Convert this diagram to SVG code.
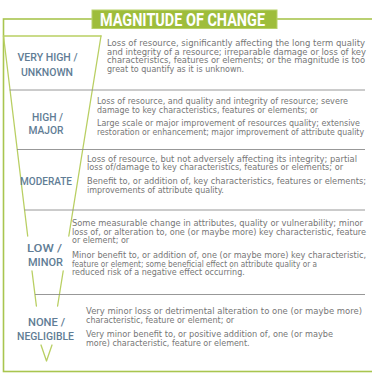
<svg xmlns="http://www.w3.org/2000/svg" width="372" height="382" viewBox="0 0 372 382">
  <defs>
    <style>
      .frame { fill: none; stroke: #a9c54f; stroke-width: 1.6; }
      .funnel { fill: none; stroke: #b9cf63; stroke-width: 1.3; stroke-linecap: round; stroke-linejoin: round; }
      .rule { stroke: #8c8c8c; stroke-width: 0.9; }
      .title-box { fill: #9ebd3b; stroke: #b8d16a; stroke-width: 1; }
      .title { font-family: Roboto, "Liberation Sans", sans-serif; font-weight: 700; font-size: 17.5px; fill: #ffffff; }
      .label { font-family: Roboto, "Liberation Sans", sans-serif; font-weight: 500; font-size: 11.5px; fill: #617d95; text-anchor: middle; }
      .desc { font-family: "DejaVu Sans", "Liberation Sans", sans-serif; font-size: 8px; fill: #767676; }
    </style>
  </defs>

  <rect x="0" y="0" width="372" height="382" fill="#ffffff"/>

  <!-- outer frame (right side runs past the edge) -->
  <rect class="frame" x="3.5" y="19" width="380" height="352.5"/>

  <!-- heading tab -->
  <g id="title">
    <rect class="title-box" x="92" y="10" width="185" height="18.5"/>
    <text class="title" x="100" y="25.5" textLength="165" lengthAdjust="spacingAndGlyphs">MAGNITUDE OF CHANGE</text>
  </g>

  <!-- funnel outline and row rules -->
  <g id="connectors">
    <path class="funnel" d="M3.5,36 H101"/>
    <path class="funnel" d="M3.5,36 L27.7,236 M32,271 L36.4,306"/>
    <path class="funnel" d="M101,36 L68.8,236 M63.2,271 L57.6,306"/>
    <path class="funnel" d="M41,345 L46.5,361 L52,345"/>
    <line class="rule" x1="9.7" y1="90" x2="365" y2="90"/>
    <line class="rule" x1="17" y1="149.5" x2="365" y2="149.5"/>
    <line class="rule" x1="24.5" y1="210" x2="365" y2="210"/>
    <line class="rule" x1="35" y1="294.5" x2="365" y2="294.5"/>
  </g>

  <g id="row-very-high">
    <text class="label" x="47.5" y="61" textLength="60" lengthAdjust="spacingAndGlyphs">VERY HIGH /</text>
    <text class="label" x="47" y="76" textLength="52" lengthAdjust="spacingAndGlyphs">UNKNOWN</text>
    <text class="desc" x="107" y="46" textLength="258" lengthAdjust="spacingAndGlyphs">Loss of resource, significantly affecting the long term quality</text>
    <text class="desc" x="107" y="54.5" textLength="259" lengthAdjust="spacingAndGlyphs">and integrity of a resource; irreparable damage or loss of key</text>
    <text class="desc" x="107" y="63" textLength="258" lengthAdjust="spacingAndGlyphs">characteristics, features or elements; or the magnitude is too</text>
    <text class="desc" x="107" y="71.5">great to quantify as it is unknown.</text>
  </g>

  <g id="row-high">
    <text class="label" x="47.5" y="120.5" textLength="31" lengthAdjust="spacingAndGlyphs">HIGH /</text>
    <text class="label" x="46" y="133.5" textLength="35" lengthAdjust="spacingAndGlyphs">MAJOR</text>
    <text class="desc" x="97" y="104" textLength="251" lengthAdjust="spacingAndGlyphs">Loss of resource, and quality and integrity of resource; severe</text>
    <text class="desc" x="97" y="112.5" textLength="221" lengthAdjust="spacingAndGlyphs">damage to key characteristics, features or elements; or</text>
    <text class="desc" x="97" y="126" textLength="263" lengthAdjust="spacingAndGlyphs">Large scale or major improvement of resources quality; extensive</text>
    <text class="desc" x="97" y="134.5" textLength="267" lengthAdjust="spacingAndGlyphs">restoration or enhancement; major improvement of attribute quality</text>
  </g>

  <g id="row-moderate">
    <text class="label" x="46" y="185" textLength="52" lengthAdjust="spacingAndGlyphs">MODERATE</text>
    <text class="desc" x="87" y="161.5" textLength="270" lengthAdjust="spacingAndGlyphs">Loss of resource, but not adversely affecting its integrity; partial</text>
    <text class="desc" x="87" y="170" textLength="256" lengthAdjust="spacingAndGlyphs">loss of/damage to key characteristics, features or elements; or</text>
    <text class="desc" x="87" y="184" textLength="279" lengthAdjust="spacingAndGlyphs">Benefit to, or addition of, key characteristics, features or elements;</text>
    <text class="desc" x="87" y="192.5">improvements of attribute quality.</text>
  </g>

  <g id="row-low">
    <text class="label" x="44.5" y="252" textLength="35" lengthAdjust="spacingAndGlyphs">LOW /</text>
    <text class="label" x="45.5" y="265.5" textLength="35" lengthAdjust="spacingAndGlyphs">MINOR</text>
    <text class="desc" x="72" y="226" textLength="291" lengthAdjust="spacingAndGlyphs">Some measurable change in attributes, quality or vulnerability; minor</text>
    <text class="desc" x="72" y="234.5" textLength="294" lengthAdjust="spacingAndGlyphs">loss of, or alteration to, one (or maybe more) key characteristic, feature</text>
    <text class="desc" x="72" y="243">or element; or</text>
    <text class="desc" x="72" y="258" textLength="294" lengthAdjust="spacingAndGlyphs">Minor benefit to, or addition of, one (or maybe more) key characteristic,</text>
    <text class="desc" x="72" y="266.5" textLength="245" lengthAdjust="spacingAndGlyphs">feature or element; some beneficial effect on attribute quality or a</text>
    <text class="desc" x="72" y="275">reduced risk of a negative effect occurring.</text>
  </g>

  <g id="row-none">
    <text class="label" x="46.5" y="326" textLength="37" lengthAdjust="spacingAndGlyphs">NONE /</text>
    <text class="label" x="45.5" y="340" textLength="57" lengthAdjust="spacingAndGlyphs">NEGLIGIBLE</text>
    <text class="desc" x="86" y="314" textLength="276" lengthAdjust="spacingAndGlyphs">Very minor loss or detrimental alteration to one (or maybe more)</text>
    <text class="desc" x="86" y="322.5">characteristic, feature or element; or</text>
    <text class="desc" x="86" y="337" textLength="247" lengthAdjust="spacingAndGlyphs">Very minor benefit to, or positive addition of, one (or maybe</text>
    <text class="desc" x="86" y="345.5">more) characteristic, feature or element.</text>
  </g>
</svg>
